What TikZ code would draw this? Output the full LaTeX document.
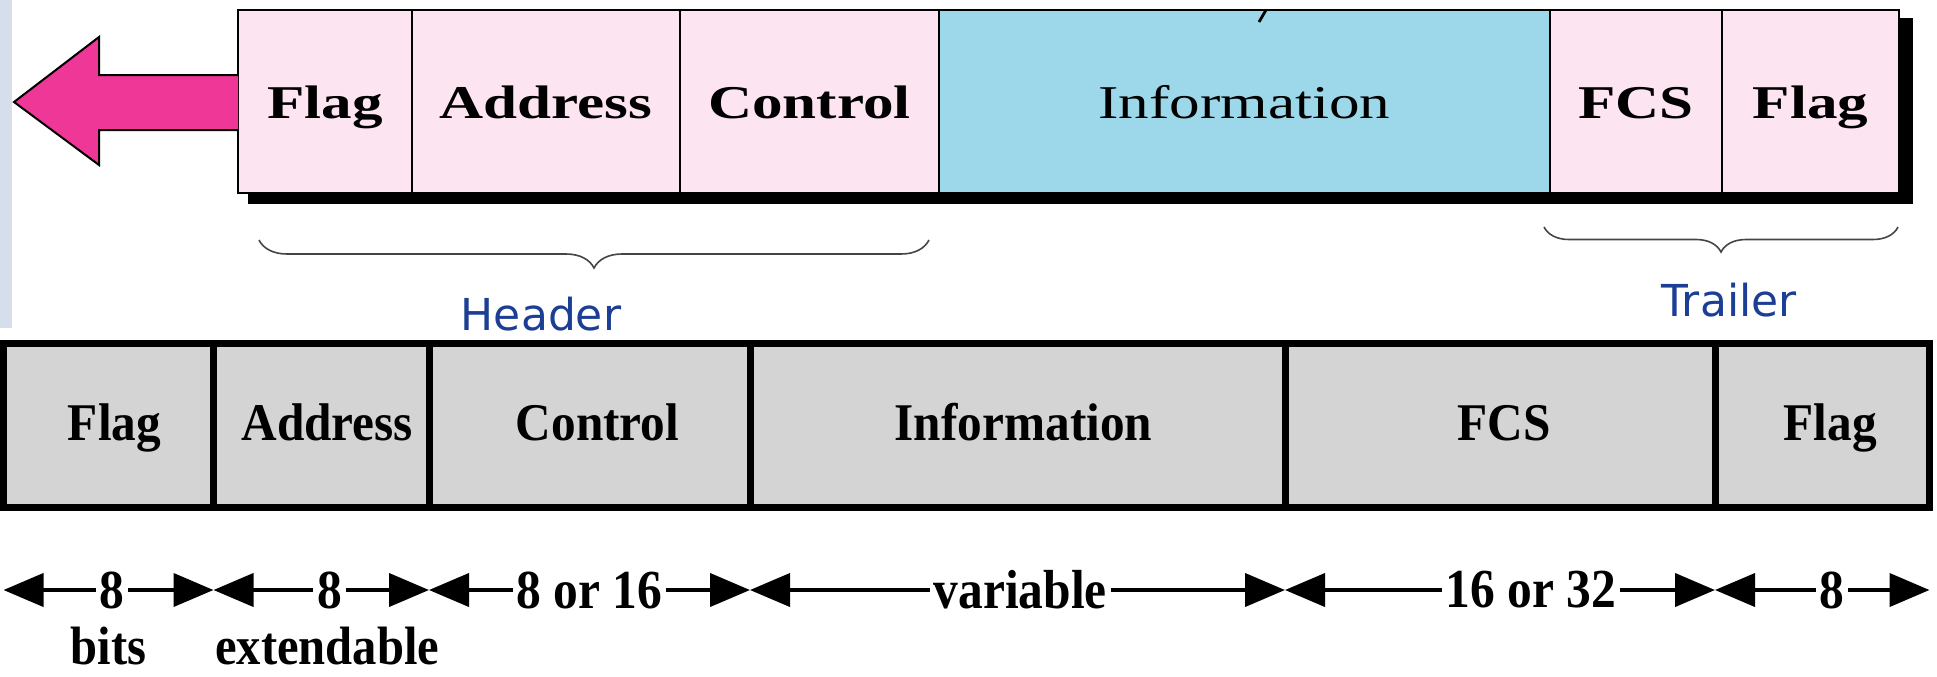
\documentclass[tikz,border=0pt]{standalone}
\usepackage{fontspec}
\setmainfont{Liberation Serif}
\newfontfamily\wideserif[FakeStretch=1.3]{Liberation Serif}
\newfontfamily\slimserif[FakeStretch=0.93]{Liberation Serif}
\newfontfamily\dimserif[FakeStretch=0.9]{Liberation Serif}
\newfontfamily\labelsans{DejaVu Sans}
\usetikzlibrary{arrows.meta,decorations.pathreplacing,fit}

\definecolor{cellpink}{HTML}{FCE4F0}
\definecolor{infoblue}{HTML}{9CD8EA}
\definecolor{cellgrey}{HTML}{D4D4D4}
\definecolor{arrowpink}{HTML}{EE3796}
\definecolor{partblue}{HTML}{1C3E94}
\definecolor{stripgrey}{HTML}{D5DEEA}
\definecolor{bracegrey}{HTML}{454545}

\begin{document}
\begin{tikzpicture}[x=0.5pt,y=-0.5pt,
  topcell/.style={draw=black, line width=1pt, inner sep=0pt, outer sep=0pt},
  pinkcell/.style={topcell, fill=cellpink},
  infocell/.style={topcell, fill=infoblue},
  botcell/.style={draw=black, line width=3.5pt, fill=cellgrey, inner sep=0pt, outer sep=0pt},
  toptext/.style={anchor=base, inner sep=0pt, font=\wideserif\fontsize{23.5}{28}\selectfont\bfseries},
  topplain/.style={anchor=base, inner sep=0pt, font=\wideserif\fontsize{23.5}{28}\selectfont},
  bottext/.style={anchor=base, inner sep=0pt, font=\slimserif\fontsize{26.5}{32}\selectfont\bfseries},
  notetext/.style={anchor=base, inner sep=0pt, font=\dimserif\fontsize{27}{32}\selectfont\bfseries},
  dimtext/.style={fill=white, inner xsep=2pt, inner ysep=1pt, font=\dimserif\fontsize{27.5}{32}\selectfont\bfseries},
  dimline/.style={line width=2pt, {Triangle[length=20pt,width=16.5pt]}-{Triangle[length=20pt,width=16.5pt]}},
  partbrace/.style={decorate, draw=bracegrey, line width=0.8pt},
  parttext/.style={anchor=base, inner sep=0pt, text=partblue, font=\labelsans\fontsize{22}{26}\selectfont}
]
\useasboundingbox (0,0) rectangle (1937,676);

% narrow strip along the left edge
\fill[stripgrey] (0,0) rectangle (12,328);

% ---------- upper frame ----------
\fill[black] (248,18) rectangle (1913,204);
\node[pinkcell, fit={(238,10) (412,193)}] (t1) {};
\node[pinkcell, fit={(412,10) (680,193)}] (t2) {};
\node[pinkcell, fit={(680,10) (939,193)}] (t3) {};
\node[infocell, fit={(939,10) (1550,193)}] (t4) {};
\node[pinkcell, fit={(1550,10) (1722,193)}] (t5) {};
\node[pinkcell, fit={(1722,10) (1899,193)}] (t6) {};
\draw[line width=1.4pt] (1266,10) -- (1259,22);

\coordinate (topbase) at (0,118);
\node[toptext]  (lt1) at (t1 |- topbase) {Flag};
\node[toptext]  (lt2) at (t2 |- topbase) {Address};
\node[toptext]  (lt3) at (t3 |- topbase) {Control};
\node[topplain] (lt4) at (t4 |- topbase) {Information};
\node[toptext]  (lt5) at (t5 |- topbase) {FCS};
\node[toptext]  (lt6) at (t6 |- topbase) {Flag};

% outgoing arrow
\draw[fill=arrowpink, line width=1pt, line join=miter]
  (238,75) -- (99,75) -- (99,37) -- (14,102) -- (99,165) -- (99,130) -- (238,130);

% header and trailer braces
\draw[partbrace, decoration={brace, amplitude=14pt}] (929,240) -- (259,240);
\node[parttext] (hdr) at (541,330) {Header};
\draw[partbrace, decoration={brace, amplitude=12.5pt}] (1898,227) -- (1544,227);
\node[parttext] (trl) at (1729,316) {Trailer};

% ---------- lower frame ----------
\node[botcell, fit={(3.5,343.5) (213.5,507)}] (b1) {};
\node[botcell, fit={(213.5,343.5) (429,507)}] (b2) {};
\node[botcell, fit={(429,343.5) (750,507)}] (b3) {};
\node[botcell, fit={(750,343.5) (1285,507)}] (b4) {};
\node[botcell, fit={(1285,343.5) (1715,507)}] (b5) {};
\node[botcell, fit={(1715,343.5) (1929.5,507)}] (b6) {};

\coordinate (botbase) at (0,440);
\node[bottext, xshift=3pt] (lb1) at (b1 |- botbase) {Flag};
\node[bottext, xshift=3pt] (lb2) at (b2 |- botbase) {Address};
\node[bottext, xshift=4pt] (lb3) at (b3 |- botbase) {Control};
\node[bottext, xshift=3pt] (lb4) at (b4 |- botbase) {Information};
\node[bottext, xshift=2pt] (lb5) at (b5 |- botbase) {FCS};
\node[bottext, xshift=4pt] (lb6) at (b6 |- botbase) {Flag};

% field widths
\coordinate (dimrow) at (0,590);
\draw[dimline] (b1.south west |- dimrow) -- (b1.south east |- dimrow) node[dimtext, pos=0.517] (w1) {8};
\draw[dimline] (b2.south west |- dimrow) -- (b2.south east |- dimrow) node[dimtext, pos=0.54] (w2) {8};
\draw[dimline] (b3.south west |- dimrow) -- (b3.south east |- dimrow) node[dimtext, pos=0.5] (w3) {8 or 16};
\draw[dimline] (b4.south west |- dimrow) -- (b4.south east |- dimrow) node[dimtext, pos=0.505] (w4) {variable};
\draw[dimline] (b5.south west |- dimrow) -- (b5.south east |- dimrow) node[dimtext, pos=0.572] (w5) {16 or 32};
\draw[dimline] (b6.south west |- dimrow) -- (b6.south east |- dimrow) node[dimtext, pos=0.545] (w6) {8};

\coordinate (notebase) at (0,664);
\node[notetext] (unit) at (b1 |- notebase) {bits};
\node[notetext, xshift=3pt] (ext) at (b2 |- notebase) {extendable};
\end{tikzpicture}
\end{document}
